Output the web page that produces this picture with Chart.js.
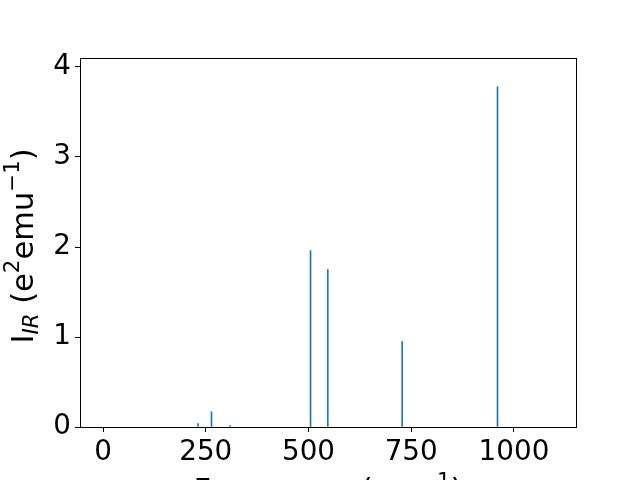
<!DOCTYPE html>
<html>
<head>
<meta charset="utf-8">
<script src="https://cdn.jsdelivr.net/npm/chart.js@4/dist/chart.umd.min.js"></script>
<style>
  html, body { margin: 0; padding: 0; background: #fff; }
  #wrap { width: 640px; height: 480px; }
</style>
</head>
<body>
<div id="wrap"><canvas id="chart" width="640" height="480"></canvas></div>
<script>
// frequencies (cm^-1) and IR intensities
const frequencies = [231, 264, 309, 505, 547, 728, 960];
const intensities = [0.037, 0.17, 0.015, 1.96, 1.75, 0.95, 3.78];
const xTicks = [0, 250, 500, 750, 1000];
const yTicks = [0, 1, 2, 3, 4];

const FONT = "DejaVu Sans";
const FS = 27.8;   // tick labels
const LS = 30.5;   // axis labels

const frame = {
  id: "frame",
  afterDraw(chart) {
    const { ctx, chartArea: a } = chart;
    ctx.save();
    ctx.strokeStyle = "#000";
    ctx.lineWidth = 1;
    ctx.strokeRect(Math.round(a.left) + 0.5, Math.round(a.top) + 0.5,
      Math.round(a.right - a.left), Math.round(a.bottom - a.top));

    ctx.fillStyle = "#000";
    // y label: I_IR (e^2 emu^-1)
    ctx.translate(25, 246);
    ctx.rotate(-Math.PI / 2);
    const big = LS + "px '" + FONT + "'";
    const small = (LS * 0.7) + "px '" + FONT + "'";
    const smallIt = "oblique " + (LS * 0.7) + "px '" + FONT + "'";
    const parts = [
      ["I", big, 0], ["IR", smallIt, 7], [" (e", big, 0], ["2", small, -12],
      ["emu", big, 0], ["\u22121", small, -12], [")", big, 0]
    ];
    let w = 0;
    parts.forEach(p => { ctx.font = p[1]; w += ctx.measureText(p[0]).width; });
    let x = -w / 2;
    ctx.textBaseline = "middle";
    parts.forEach(p => {
      ctx.font = p[1];
      ctx.fillText(p[0], x, p[2]);
      x += ctx.measureText(p[0]).width;
    });
    ctx.restore();

    // x label: Frequency (cm^-1), mostly below the canvas
    ctx.save();
    ctx.fillStyle = "#000";
    const xp = [["Frequency (cm", big, 0], ["\u22121", small, -12], [")", big, 0]];
    w = 0;
    xp.forEach(p => { ctx.font = p[1]; w += ctx.measureText(p[0]).width; });
    x = (a.left + a.right) / 2 - w / 2;
    ctx.textBaseline = "alphabetic";
    xp.forEach(p => {
      ctx.font = p[1];
      ctx.fillText(p[0], x, 500 + p[2]);
      x += ctx.measureText(p[0]).width;
    });
    ctx.restore();
  }
};

new Chart(document.getElementById("chart"), {
  type: "bar",
  data: {
    datasets: [{
      data: frequencies.map((f, i) => ({ x: f, y: intensities[i] })),
      backgroundColor: "#1f77b4",
      borderWidth: 0,
      barThickness: 1
    }]
  },
  options: {
    responsive: false,
    animation: false,
    layout: { padding: { top: 58, right: 64, left: 0, bottom: 0 } },
    plugins: { legend: { display: false }, tooltip: { enabled: false } },
    scales: {
      x: {
        type: "linear",
        offset: false,
        min: -56,
        max: 1151,
        afterBuildTicks: s => { s.ticks = xTicks.map(v => ({ value: v, label: String(v) })); },
        afterFit: s => { s.height = 53; },
        grid: { offset: false, drawOnChartArea: false, color: "#000", tickLength: 5 },
        border: { display: false },
        ticks: { color: "#000", font: { family: FONT, size: FS }, padding: 4, maxRotation: 0,
          callback: v => String(v) }
      },
      y: {
        min: 0,
        max: 4.1,
        afterBuildTicks: s => { s.ticks = yTicks.map(v => ({ value: v, label: String(v) })); },
        afterFit: s => { s.width = 80; },
        grid: { drawOnChartArea: false, color: "#000", tickLength: 5 },
        border: { display: false },
        ticks: { color: "#000", font: { family: FONT, size: FS }, padding: 4,
          callback: v => String(v) }
      }
    }
  },
  plugins: [frame]
});
</script>
</body>
</html>
